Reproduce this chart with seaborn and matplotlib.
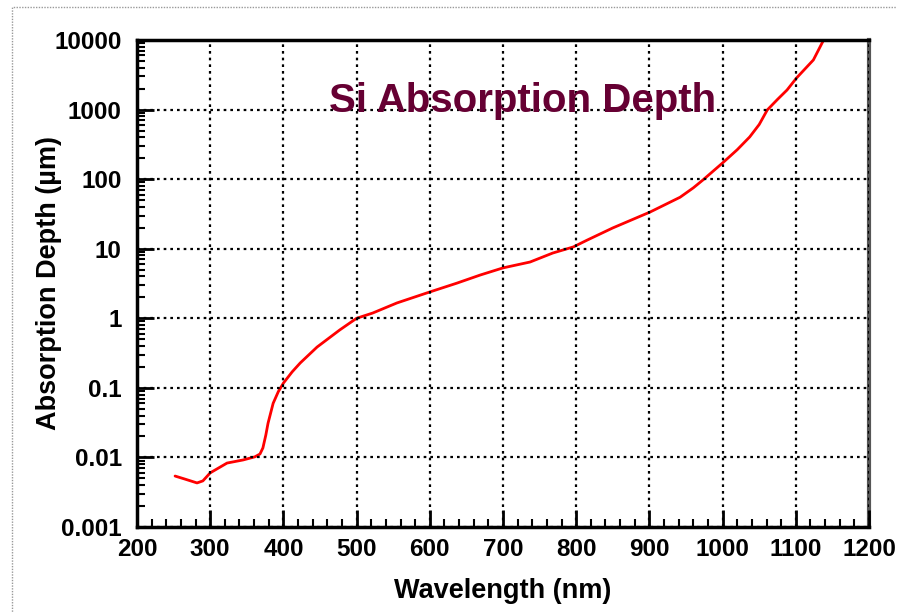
import matplotlib
matplotlib.use("Agg")
import matplotlib.pyplot as plt
from matplotlib.patches import Rectangle
from matplotlib.ticker import LogLocator, MultipleLocator, FixedLocator, NullFormatter
import seaborn as sns
import pandas as pd

# Absorption depth of silicon versus wavelength
wavelength_nm = [252, 265, 282, 290, 300, 323, 345, 361, 368, 372, 376, 379,
                 386, 393, 400, 412, 423, 446, 477, 500, 522, 555, 600, 637,
                 669, 700, 737, 768, 796, 815, 850, 901, 942, 960, 973, 1000,
                 1020, 1037, 1050, 1061, 1075, 1088, 1101, 1124, 1138]
depth_um = [0.0054, 0.0049, 0.0043, 0.0046, 0.0060, 0.0083, 0.0092, 0.0102,
            0.0112, 0.0137, 0.021, 0.031, 0.060, 0.088, 0.117, 0.170, 0.228,
            0.386, 0.68, 1.0, 1.19, 1.66, 2.39, 3.2, 4.19, 5.3, 6.44, 8.67,
            10.6, 13.3, 19.9, 33.7, 55, 75, 97, 171, 265, 404, 610, 986, 1400,
            1910, 2845, 5165, 10000]

x_ticks = [200, 300, 400, 500, 600, 700, 800, 900, 1000, 1100, 1200]
y_ticks = [0.001, 0.01, 0.1, 1, 10, 100, 1000, 10000]
y_tick_labels = ["0.001", "0.01", "0.1", "1", "10", "100", "1000", "10000"]

df = pd.DataFrame({"Wavelength (nm)": wavelength_nm, "Absorption Depth": depth_um})

sns.set_theme(style="white")
plt.rcParams["font.family"] = ["Liberation Sans", "DejaVu Sans"]

fig = plt.figure(figsize=(8.97, 6.13), dpi=100)
ax = fig.add_axes([137 / 897, 86 / 613, 732 / 897, 487 / 613])

sns.lineplot(data=df, x="Wavelength (nm)", y="Absorption Depth", ax=ax,
             color="#ff0000", linewidth=2.0, sort=False)

ax.set_yscale("log")
ax.set_xlim(200, 1200)
ax.set_ylim(0.001, 10000)

ax.xaxis.set_major_locator(FixedLocator(x_ticks))
ax.xaxis.set_minor_locator(MultipleLocator(20))
ax.yaxis.set_major_locator(FixedLocator(y_ticks))
ax.yaxis.set_minor_locator(LogLocator(base=10, subs=range(2, 10), numticks=20))
ax.yaxis.set_minor_formatter(NullFormatter())
ax.set_xticklabels([str(t) for t in x_ticks])
ax.set_yticklabels(y_tick_labels)

ax.tick_params(axis="both", which="major", direction="in", length=12, width=2,
               color="black", labelsize=17.5, pad=8, labelcolor="black")
ax.tick_params(axis="y", which="major", pad=11)
ax.tick_params(axis="both", which="minor", direction="in", length=6, width=1.5,
               color="black")
ax.tick_params(axis="both", which="both", bottom=True, left=True, top=False, right=False)
for lab in ax.get_xticklabels() + ax.get_yticklabels():
    lab.set_fontweight("bold")

ax.grid(True, which="major", color="black", linestyle=(0, (1.2, 1.8)), linewidth=1.6)
ax.set_axisbelow(False)

for side in ["left", "bottom", "top"]:
    ax.spines[side].set_color("black")
    ax.spines[side].set_linewidth(2.5)
ax.spines["right"].set_color("#555555")
ax.spines["right"].set_linewidth(3)

ax.set_xlabel("Wavelength (nm)", fontsize=19.5, fontweight="bold", labelpad=12,
              color="black")
ax.set_ylabel("Absorption Depth (\u00b5m)", fontsize=19.5, fontweight="bold",
              color="black")
ax.yaxis.set_label_coords(-0.103, 0.5)

ax.text(0.527, 0.875, "Si Absorption Depth", transform=ax.transAxes,
        ha="center", va="center", fontsize=29, fontweight="bold", color="#660033")

# dotted frame around the figure
fig.patches.append(Rectangle((12 / 897, -0.05), 1.1, (613 - 7) / 613 + 0.05,
                             transform=fig.transFigure, fill=False,
                             edgecolor="#999999", linewidth=1.0,
                             linestyle=(0, (1, 1)), zorder=0))

fig.savefig("out.png", dpi=100, facecolor="white")
